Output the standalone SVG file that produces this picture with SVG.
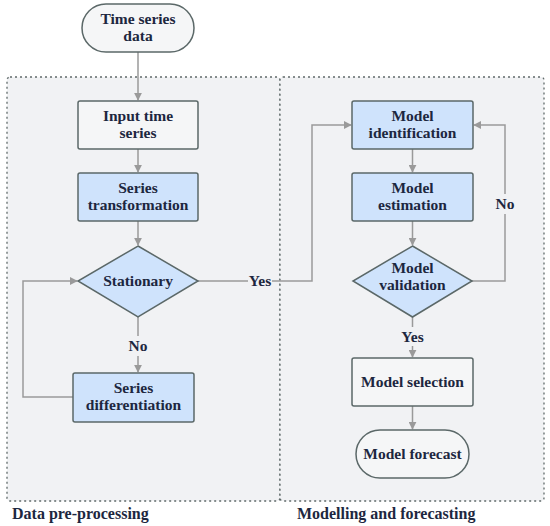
<svg xmlns="http://www.w3.org/2000/svg" width="550" height="526" viewBox="0 0 550 526">
<style>
.cluster{fill:#f1f2f4;stroke:#606a6a;stroke-width:1.3;stroke-dasharray:2 3}
.box{stroke:#5b6868;stroke-width:1.5}
.blue{fill:#cfe3fc}
.plain{fill:#f5f6f7}
.t{font-family:"Liberation Serif","DejaVu Serif",serif;font-weight:bold;font-size:15.5px;fill:#1d2740;text-anchor:middle}
.lbl{font-family:"Liberation Serif","DejaVu Serif",serif;font-weight:bold;font-size:16px;fill:#1d2740}
.e{fill:none;stroke:#9a9a9a;stroke-width:1.5}
</style>
<defs>
<marker id="ah" viewBox="0 0 10 10" refX="9" refY="5" markerWidth="8" markerHeight="8" markerUnits="userSpaceOnUse" orient="auto">
<path d="M0,0 L10,5 L0,10 z" fill="#9a9a9a"/>
</marker>
</defs>
<g id="clusters">
<rect class="cluster" x="7" y="77" width="273" height="424" rx="3"/>
<rect class="cluster" x="280" y="77" width="264" height="424" rx="3"/>
<text class="lbl" x="12" y="519">Data pre-processing</text>
<text class="lbl" x="297" y="519">Modelling and forecasting</text>
</g>
<g id="edges">
<path class="e" d="M138,52 V100" marker-end="url(#ah)"/>
<path class="e" d="M138,149 V172" marker-end="url(#ah)"/>
<path class="e" d="M138,221 V245" marker-end="url(#ah)"/>
<path class="e" d="M138,317 V336 M138,356 V372" marker-end="url(#ah)"/>
<path class="e" d="M73,397 H23 V281 H77" marker-end="url(#ah)"/>
<path class="e" d="M197,281 H248"/>
<path class="e" d="M272,281 H312 V125 H351" marker-end="url(#ah)"/>
<path class="e" d="M412.5,149 V172" marker-end="url(#ah)"/>
<path class="e" d="M412.5,221 V245" marker-end="url(#ah)"/>
<path class="e" d="M472,281 H505 V125 H474" marker-end="url(#ah)"/>
<path class="e" d="M412.5,317 V327 M412.5,346 V357" marker-end="url(#ah)"/>
<path class="e" d="M412.5,406 V429" marker-end="url(#ah)"/>
<rect x="494" y="194" width="22" height="20" fill="#f1f2f4"/>
<text class="t" x="260" y="286">Yes</text>
<text class="t" x="138" y="351">No</text>
<text class="t" x="505" y="209">No</text>
<text class="t" x="412.5" y="342">Yes</text>
</g>
<g id="n_tsdata">
<rect class="box plain" x="82" y="4" width="112" height="48" rx="24"/>
<text class="t" x="138" y="24">Time series</text>
<text class="t" x="138" y="41">data</text>
</g>
<g id="n_input">
<rect class="box plain" x="78" y="101" width="120" height="48" rx="2"/>
<text class="t" x="138" y="121">Input time</text>
<text class="t" x="138" y="138">series</text>
</g>
<g id="n_transform">
<rect class="box blue" x="78" y="173" width="120" height="48" rx="2"/>
<text class="t" x="138" y="193">Series</text>
<text class="t" x="138" y="210">transformation</text>
</g>
<g id="n_stationary">
<polygon class="box blue" points="138,246 198,281 138,317 78,281"/>
<text class="t" x="138" y="286">Stationary</text>
</g>
<g id="n_diff">
<rect class="box blue" x="73" y="373" width="121" height="49" rx="2"/>
<text class="t" x="133.5" y="393">Series</text>
<text class="t" x="133.5" y="410">differentiation</text>
</g>
<g id="n_ident">
<rect class="box blue" x="352" y="101" width="121" height="48" rx="2"/>
<text class="t" x="412.5" y="121">Model</text>
<text class="t" x="412.5" y="138">identification</text>
</g>
<g id="n_estim">
<rect class="box blue" x="352" y="173" width="121" height="48" rx="2"/>
<text class="t" x="412.5" y="193">Model</text>
<text class="t" x="412.5" y="210">estimation</text>
</g>
<g id="n_valid">
<polygon class="box blue" points="412.5,246 472,281 412.5,317 353,281"/>
<text class="t" x="412.5" y="273">Model</text>
<text class="t" x="412.5" y="290">validation</text>
</g>
<g id="n_select">
<rect class="box plain" x="352" y="358" width="121" height="48" rx="2"/>
<text class="t" x="412.5" y="387">Model selection</text>
</g>
<g id="n_forecast">
<rect class="box plain" x="356" y="430" width="113" height="48" rx="24"/>
<text class="t" x="412.5" y="459">Model forecast</text>
</g>
</svg>
